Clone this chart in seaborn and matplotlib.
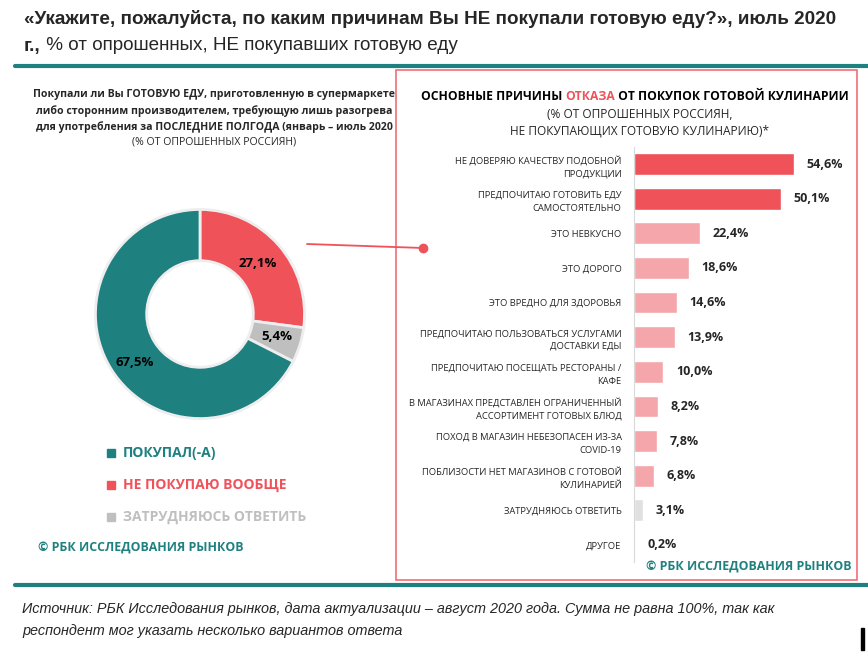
import matplotlib
matplotlib.use("Agg")
import matplotlib.pyplot as plt
import seaborn as sns
import pandas as pd
from matplotlib.patches import Rectangle

sns.set_style("white")
plt.rcParams['font.family'] = ['Open Sans', 'DejaVu Sans']

# donut data (clockwise from 12 o'clock)
donut_labels = ["НЕ ПОКУПАЮ ВООБЩЕ", "ЗАТРУДНЯЮСЬ ОТВЕТИТЬ", "ПОКУПАЛ(-А)"]
donut_values = [27.1, 5.4, 67.5]
legend_order = ["ПОКУПАЛ(-А)", "НЕ ПОКУПАЮ ВООБЩЕ", "ЗАТРУДНЯЮСЬ ОТВЕТИТЬ"]

# reasons data
reasons = [
    "НЕ ДОВЕРЯЮ КАЧЕСТВУ ПОДОБНОЙ\nПРОДУКЦИИ",
    "ПРЕДПОЧИТАЮ ГОТОВИТЬ ЕДУ\nСАМОСТОЯТЕЛЬНО",
    "ЭТО НЕВКУСНО",
    "ЭТО ДОРОГО",
    "ЭТО ВРЕДНО ДЛЯ ЗДОРОВЬЯ",
    "ПРЕДПОЧИТАЮ ПОЛЬЗОВАТЬСЯ УСЛУГАМИ\nДОСТАВКИ ЕДЫ",
    "ПРЕДПОЧИТАЮ ПОСЕЩАТЬ РЕСТОРАНЫ /\nКАФЕ",
    "В МАГАЗИНАХ ПРЕДСТАВЛЕН ОГРАНИЧЕННЫЙ\nАССОРТИМЕНТ ГОТОВЫХ БЛЮД",
    "ПОХОД В МАГАЗИН НЕБЕЗОПАСЕН ИЗ-ЗА\nCOVID-19",
    "ПОБЛИЗОСТИ НЕТ МАГАЗИНОВ С ГОТОВОЙ\nКУЛИНАРИЕЙ",
    "ЗАТРУДНЯЮСЬ ОТВЕТИТЬ",
    "ДРУГОЕ",
]
reason_values = [54.6, 50.1, 22.4, 18.6, 14.6, 13.9, 10.0, 8.2, 7.8, 6.8, 3.1, 0.2]

TEAL = "#1f8080"
RED = "#f0525a"
PINK = "#f4a6aa"
GRAY = "#bfbfbf"
LIGHTGRAY = "#e0e0e0"

W, H = 868, 652
fig = plt.figure(figsize=(W / 100, H / 100), dpi=100)
renderer = fig.canvas.get_renderer()


def px(x, y):
    return x / W, 1 - y / H


def put_pieces(x, y, pieces, ha="left", **kw):
    """draw consecutive text pieces [(text, props)] on one baseline"""
    widths = []
    for txt, props in pieces:
        t = fig.text(0, 0, txt, **kw, **props)
        widths.append(t.get_window_extent(renderer).width)
        t.remove()
    total = sum(widths)
    start = x - total / 2 if ha == "center" else x
    for (txt, props), w in zip(pieces, widths):
        fig.text(*px(start, y), txt, va="center", **kw, **props)
        start += w


# title
title_kw = dict(fontsize=13.6, family=['Liberation Sans Narrow', 'Liberation Sans', 'DejaVu Sans'])
fig.text(*px(24, 19), "«Укажите, пожалуйста, по каким причинам Вы НЕ покупали готовую еду?», июль 2020",
         fontweight="bold", va="center", **title_kw)
put_pieces(24, 46, [("г.,", dict(fontweight="bold")),
                    (" % от опрошенных, НЕ покупавших готовую еду", dict())], **title_kw)

# teal separators
fig.add_artist(plt.Line2D([15 / W, 1], [1 - 66 / H] * 2, color=TEAL, lw=3))
fig.add_artist(plt.Line2D([15 / W, 1], [1 - 585 / H] * 2, color=TEAL, lw=3))

# red frame around reasons block
fig.add_artist(Rectangle(px(396, 580), 461 / W, 510 / H, fill=False, ec="#ef6f75", lw=1.2))

# left subtitle
sub_lines = ["Покупали ли Вы ГОТОВУЮ ЕДУ, приготовленную в супермаркете",
             "либо сторонним производителем, требующую лишь разогрева",
             "для употребления за ПОСЛЕДНИЕ ПОЛГОДА (январь – июль 2020"]
for i, line in enumerate(sub_lines):
    fig.text(*px(214, 95 + i * 16), line, ha="center", va="center", fontsize=7.55, fontweight="bold")
fig.text(*px(214, 142), "(% ОТ ОПРОШЕННЫХ РОССИЯН)", ha="center", va="center", fontsize=7.55)

# donut
size = 230
ax_pie = fig.add_axes([(200 - size / 2) / W, 1 - (314 + size / 2) / H, size / W, size / H])
wedges, _ = ax_pie.pie(donut_values, colors=[RED, GRAY, TEAL], startangle=90, counterclock=False,
                       wedgeprops=dict(width=0.49, edgecolor="#eeeeee", linewidth=2))
ax_pie.set_xlim(-1.1, 1.1)
ax_pie.set_ylim(-1.1, 1.1)
ax_pie.set_aspect("equal")
ax_pie.axis("off")
pie_label_pos = [(0.55, 0.48), (0.73, -0.22), (-0.62, -0.46)]
for v, (lx, ly) in zip(donut_values, pie_label_pos):
    ax_pie.text(lx, ly, f"{v:.1f}".replace(".", ",") + "%", ha="center", va="center",
                fontsize=9.5, fontweight="bold", color="black")

# connector
fig.add_artist(plt.Line2D([307 / W, 423 / W], [1 - 244 / H, 1 - 248 / H], color=RED, lw=1.3))
fig.add_artist(plt.Line2D([423 / W], [1 - 248 / H], marker="o", color=RED, markersize=6))

# legend
legend_colors = {"ПОКУПАЛ(-А)": TEAL, "НЕ ПОКУПАЮ ВООБЩЕ": RED, "ЗАТРУДНЯЮСЬ ОТВЕТИТЬ": GRAY}
for i, name in enumerate(legend_order):
    y = 453 + i * 32
    fig.add_artist(Rectangle(px(111 - 4, y + 4), 8 / W, 8 / H, color=legend_colors[name]))
    fig.text(*px(123, y), name, va="center", fontsize=10, fontweight="bold", color=legend_colors[name])
fig.text(*px(38, 548), "© РБК ИССЛЕДОВАНИЯ РЫНКОВ", va="center", fontsize=8.9,
         fontweight="bold", color=TEAL)

# right header
put_pieces(635, 97, [("ОСНОВНЫЕ ПРИЧИНЫ ", dict(color="black")),
                     ("ОТКАЗА", dict(color=RED)),
                     (" ОТ ПОКУПОК ГОТОВОЙ КУЛИНАРИИ", dict(color="black"))],
           ha="center", fontsize=8.7, fontweight="bold")
fig.text(*px(640, 114), "(% ОТ ОПРОШЕННЫХ РОССИЯН,", ha="center", va="center", fontsize=8.6)
fig.text(*px(640, 131), "НЕ ПОКУПАЮЩИХ ГОТОВУЮ КУЛИНАРИЮ)*", ha="center", va="center", fontsize=8.6)

# reasons bar chart
df = pd.DataFrame({"reason": reasons, "value": reason_values})
bar_colors = [RED, RED] + [PINK] * 8 + [LIGHTGRAY, PINK]
ax = fig.add_axes([634 / W, 1 - 562.3 / H, 176 / W, 415.6 / H])
sns.barplot(data=df, x="value", y="reason", hue="reason", palette=bar_colors,
            legend=False, width=0.63, ax=ax, saturation=1)
ax.set_xlim(0, 60)
ax.set_ylim(11.5, -0.5)
ax.set_xlabel("")
ax.set_ylabel("")
ax.set_xticks([])
for s in ["top", "right", "bottom"]:
    ax.spines[s].set_visible(False)
ax.spines["left"].set_color("#d9d9d9")
ax.tick_params(axis="y", length=0, pad=9, labelsize=6.75)
for lab in ax.get_yticklabels():
    lab.set_multialignment("right")
    lab.set_linespacing(1.55)
for i, v in enumerate(reason_values):
    ax.annotate(f"{v:.1f}".replace(".", ",") + "%", (v, i), xytext=(9, 0), textcoords="offset points",
                ha="left", va="center", fontsize=9, fontweight="bold")

fig.text(*px(851, 567), "© РБК ИССЛЕДОВАНИЯ РЫНКОВ", ha="right", va="center", fontsize=8.9,
         fontweight="bold", color=TEAL)

# source note
src_kw = dict(fontsize=10.4, style="italic", family=['Liberation Sans Narrow', 'Liberation Sans', 'DejaVu Sans'])
fig.text(*px(22, 609), "Источник: РБК Исследования рынков, дата актуализации – август 2020 года. Сумма не равна 100%, так как",
         va="center", **src_kw)
fig.text(*px(22, 631), "респондент мог указать несколько вариантов ответа", va="center", **src_kw)

fig.add_artist(Rectangle(px(861, 650), 3 / W, 22 / H, color="black"))

fig.savefig("out.png", dpi=100)
